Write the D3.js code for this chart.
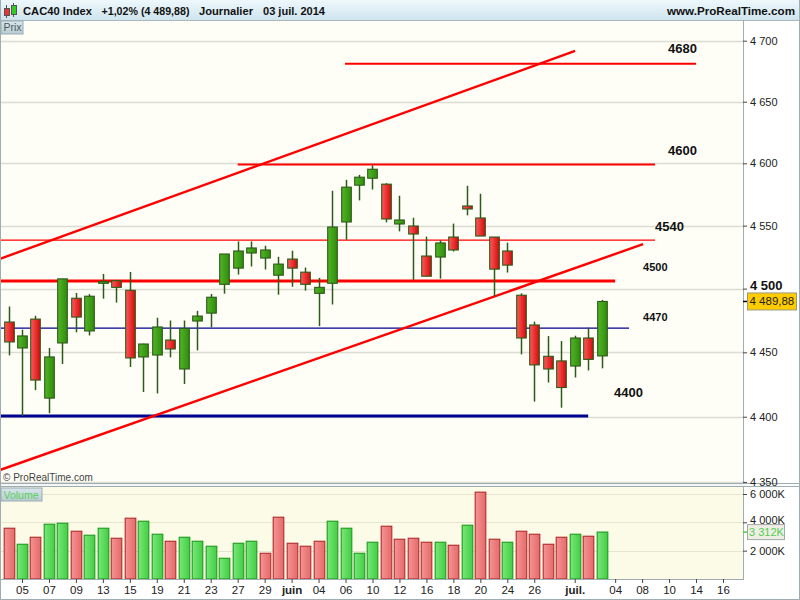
<!DOCTYPE html>
<html><head><meta charset="utf-8">
<script src="https://cdn.jsdelivr.net/npm/d3@7"></script>
<style>
body{margin:0;background:#fff;}
svg{display:block;font-family:"Liberation Sans",Arial,sans-serif;}
</style>
</head><body>
<svg id="c" width="800" height="600"></svg>
<script>
// ---------- DATA ----------
const tradingDays = ["2014-05-02","2014-05-05","2014-05-06","2014-05-07","2014-05-08","2014-05-09","2014-05-12","2014-05-13","2014-05-14","2014-05-15","2014-05-16","2014-05-19","2014-05-20","2014-05-21","2014-05-22","2014-05-23","2014-05-26","2014-05-27","2014-05-28","2014-05-29","2014-05-30","2014-06-02","2014-06-03","2014-06-04","2014-06-05","2014-06-06","2014-06-09","2014-06-10","2014-06-11","2014-06-12","2014-06-13","2014-06-16","2014-06-17","2014-06-18","2014-06-19","2014-06-20","2014-06-23","2014-06-24","2014-06-25","2014-06-26","2014-06-27","2014-06-30","2014-07-01","2014-07-02","2014-07-03"];
const openP  = [4473.7,4453.4,4476.0,4414.4,4457.3,4492.4,4466.7,4504.2,4506.3,4498.7,4446.4,4447.9,4459.6,4437.0,4474.5,4480.7,4503.4,4516.2,4528.2,4524.2,4510.6,4523.4,4513.0,4496.3,4504.2,4552.9,4582.4,4588.0,4583.2,4551.3,4549.7,4525.8,4525.0,4540.9,4565.7,4556.1,4540.9,4529.8,4494.8,4471.4,4446.9,4443.3,4439.3,4461.2,4447.2];
const highP  = [4485.9,4467.7,4478.6,4453.4,4507.7,4496.6,4495.6,4511.6,4506.9,4513.2,4456.7,4477.1,4474.9,4474.9,4482.5,4495.8,4527.4,4537.4,4537.4,4534.0,4525.2,4530.0,4516.7,4508.5,4577.9,4586.7,4590.7,4598.4,4584.0,4573.9,4556.3,4541.2,4538.2,4551.6,4581.9,4575.5,4540.9,4536.4,4496.3,4474.0,4462.7,4458.8,4463.0,4469.3,4491.1];
const lowP   = [4447.6,4400.5,4420.6,4402.7,4440.9,4465.6,4463.2,4492.1,4489.0,4438.6,4419.1,4418.0,4446.1,4425.3,4451.5,4469.5,4496.0,4511.1,4517.5,4515.1,4495.2,4501.5,4498.4,4470.5,4487.5,4538.8,4570.2,4578.9,4552.6,4545.4,4506.9,4509.8,4507.9,4529.4,4558.2,4541.7,4494.2,4512.7,4448.4,4411.7,4426.5,4407.0,4430.4,4435.9,4437.5];
const closeP = [4458.1,4462.8,4428.4,4446.4,4507.7,4477.6,4494.0,4505.5,4501.0,4445.6,4456.5,4469.8,4452.6,4468.7,4478.4,4493.2,4527.4,4529.8,4532.2,4530.6,4519.4,4516.2,4503.4,4501.0,4548.9,4580.8,4588.8,4595.2,4555.3,4554.5,4543.3,4509.8,4536.2,4530.6,4563.3,4541.7,4515.4,4518.6,4461.2,4440.2,4437.0,4422.6,4461.2,4444.5,4489.88];
const volumeK = [3584,2453,2948,3867,3938,3372,3090,3584,2877,4291,4079,3160,2665,2948,2665,2312,1463,2524,2665,1817,4362,2524,2312,2665,4079,3584,1817,2595,3726,2807,2877,2595,2595,2383,3797,6130,2807,2595,3372,3160,2453,2948,3160,3019,3312];
const prevCloseBefore = 4487.4;

const xTickIndex  = [1,3,5,7,9,11,13,15,17,19,21,23,25,27,29,31,33,35,37,39,42,45,47,49,51,53];
const xTickLabels = ["05","07","09","13","15","19","21","23","27","29","juin","04","06","10","12","16","18","20","24","26","juil.","04","08","10","14","16"];
const monthLabels = ["juin","juil."];
const priceTicks  = [4350,4400,4450,4500,4550,4600,4650,4700];
const volumeTicks = [2000,4000,6000];

// horizontal levels (price, start index, end index)
const levelPrice = [4681.0,4599.0,4538.5,4506.1,4469.0,4400.5];
const levelStart = [24.96,17.0,-1,-1,-1,-1];
const levelEnd   = [51.0,47.96,47.96,45.0,46.03,43.0];
const levelColor = ["red","red","red","red","navy","navy"];
const levelWidth = [2,2,1.3,3,1.2,3];
// level annotations (text, index, price)
const noteText  = ["4680","4600","4540","4500","4470","4400"];
const noteIdx   = [48.92,48.92,47.96,47.07,47.07,44.92];
const notePrice = [4694.0,4610.0,4549.2,4517.2,4477.8,4418.5];
const noteBig   = [true,true,true,false,false,true];
// trend lines
const trendStartIdx   = [-0.63,-0.63];
const trendStartPrice = [4523.6,4359.1];
const trendEndIdx     = [42.03,47.07];
const trendEndPrice   = [4691.6,4535.2];

const titleName = "CAC40 Index";
const titlePeriod = "Journalier";
const titleDate = "03 juil. 2014";
const siteName = "www.ProRealTime.com";

// ---------- SETUP ----------
const loc = d3.formatLocale({decimal:",", thousands:"\u00a0", grouping:[3], currency:["","€"]});
const fmtInt = loc.format(",");
const fmt2 = loc.format(",.2f");
const n = closeP.length;
const last = closeP[n-1], prev = closeP[n-2];
const pct = (last/prev - 1)*100;

const svg = d3.select("#c");
const W = 800, H = 600;
const axisX = 743;
const pTop = 21, pBot = 483, vTop = 487, vBot = 579;

const x = d3.scaleLinear().domain([0,53]).range([8.5,723]);
const y = d3.scaleLog().domain([4350,4700]).range([481.9,40.7]);
const yv = d3.scaleLinear().domain([0,6000]).range([579,494]);

const defs = svg.append("defs");
function grad(id, stops, vertical){
  const g = defs.append("linearGradient").attr("id",id)
    .attr("x1","0").attr("y1","0").attr("x2",vertical?"0":"1").attr("y2",vertical?"1":"0");
  stops.forEach(s=>g.append("stop").attr("offset",s[0]).attr("stop-color",s[1]));
}
grad("gRed",[["0%","#ff5a5a"],["100%","#d20a0a"]]);
grad("gGreen",[["0%","#52b526"],["100%","#2f8c0c"]]);
grad("vRed",[["0%","#f69494"],["100%","#e46a6a"]]);
grad("vGreen",[["0%","#78e878"],["100%","#44cc44"]]);
grad("hdr",[["0%","#eef8fc"],["100%","#cfe4ee"]],true);
grad("tag",[["0%","#d8e6ea"],["100%","#b8ccd2"]],true);
defs.append("clipPath").attr("id","clipP").append("rect").attr("x",1).attr("y",pTop).attr("width",axisX-1).attr("height",pBot-pTop);
defs.append("clipPath").attr("id","clipV").append("rect").attr("x",1).attr("y",vTop).attr("width",axisX-1).attr("height",vBot-vTop);

// backgrounds
svg.append("rect").attr("width",W).attr("height",H).attr("fill","#ffffff");
svg.append("rect").attr("x",0).attr("y",0).attr("width",W).attr("height",20).attr("fill","url(#hdr)");
svg.append("line").attr("x1",0).attr("x2",W).attr("y1",20.5).attr("y2",20.5).attr("stroke","#a9b6bc");
svg.append("rect").attr("x",1).attr("y",pTop).attr("width",axisX-1).attr("height",pBot-pTop).attr("fill","#fefef6");
svg.append("rect").attr("x",1).attr("y",vTop).attr("width",axisX-1).attr("height",vBot-vTop).attr("fill","#fbfbe8");

// gridlines price
const gP = svg.append("g").attr("clip-path","url(#clipP)");
gP.selectAll("line.grid").data(priceTicks).join("line")
  .attr("x1",0).attr("x2",axisX).attr("y1",d=>Math.round(y(d))+0.5).attr("y2",d=>Math.round(y(d))+0.5)
  .attr("stroke","#dcdcd2").attr("stroke-width",1.3);
// gridlines volume
svg.append("g").selectAll("line").data(volumeTicks).join("line")
  .attr("x1",1).attr("x2",axisX).attr("y1",d=>Math.round(yv(d))+0.5).attr("y2",d=>Math.round(yv(d))+0.5)
  .attr("stroke","#e6e6cf").attr("stroke-width",1.2);

// levels
gP.selectAll("line.lvl").data(levelPrice).join("line").attr("class","lvl")
  .attr("x1",(d,i)=>x(levelStart[i])).attr("x2",(d,i)=>x(levelEnd[i]))
  .attr("y1",d=>y(d)).attr("y2",d=>y(d))
  .attr("stroke",(d,i)=>levelColor[i]==="red"?"#ff0000":"#000090")
  .attr("stroke-width",(d,i)=>levelWidth[i]);
// trend lines
gP.selectAll("line.tr").data(trendStartIdx).join("line").attr("class","tr")
  .attr("x1",(d,i)=>x(trendStartIdx[i])).attr("y1",(d,i)=>y(trendStartPrice[i]))
  .attr("x2",(d,i)=>x(trendEndIdx[i])).attr("y2",(d,i)=>y(trendEndPrice[i]))
  .attr("stroke","#ff0000").attr("stroke-width",2.4);

// candles
const candles = gP.selectAll("g.c").data(closeP).join("g").attr("class","c");
const bw = 9.6;
candles.append("line")
  .attr("x1",(d,i)=>Math.round(x(i))+0.5).attr("x2",(d,i)=>Math.round(x(i))+0.5)
  .attr("y1",(d,i)=>y(highP[i])).attr("y2",(d,i)=>y(lowP[i]))
  .attr("stroke","#2c5a18").attr("stroke-width",1.5);
candles.append("rect")
  .attr("x",(d,i)=>Math.round(x(i))+0.5-bw/2)
  .attr("y",(d,i)=>y(Math.max(openP[i],closeP[i])))
  .attr("width",bw)
  .attr("height",(d,i)=>Math.max(1.5,y(Math.min(openP[i],closeP[i]))-y(Math.max(openP[i],closeP[i]))))
  .attr("fill",(d,i)=>closeP[i]>=openP[i]?"url(#gGreen)":"url(#gRed)")
  .attr("stroke","#2c5a18").attr("stroke-width",1.1);

// annotations
gP.selectAll("text.note").data(noteText).join("text").attr("class","note")
  .attr("x",(d,i)=>x(noteIdx[i])).attr("y",(d,i)=>y(notePrice[i]))
  .attr("dy","0.35em").attr("font-weight","bold")
  .attr("font-size",(d,i)=>noteBig[i]?13:11).attr("fill","#111").text(d=>d);

// volume bars
const vw = 10.6;
svg.append("g").attr("clip-path","url(#clipV)").selectAll("rect").data(volumeK).join("rect")
  .attr("x",(d,i)=>Math.round(x(i))+0.5-vw/2).attr("y",d=>yv(d))
  .attr("width",vw).attr("height",d=>yv(0)-yv(d))
  .attr("fill",(d,i)=>closeP[i] >= (i?closeP[i-1]:prevCloseBefore)?"url(#vGreen)":"url(#vRed)")
  .attr("stroke",(d,i)=>closeP[i] >= (i?closeP[i-1]:prevCloseBefore)?"#1e9a1e":"#b02a2a")
  .attr("stroke-width",1.1);

// panel borders
svg.append("line").attr("x1",axisX+0.5).attr("x2",axisX+0.5).attr("y1",20).attr("y2",vBot).attr("stroke","#9eacb3");
svg.append("line").attr("x1",0.5).attr("x2",0.5).attr("y1",0).attr("y2",H).attr("stroke","#9eacb3");
svg.append("line").attr("x1",W-0.5).attr("x2",W-0.5).attr("y1",0).attr("y2",H).attr("stroke","#9eacb3");
svg.append("rect").attr("x",1).attr("y",pBot).attr("width",axisX).attr("height",vTop-pBot).attr("fill","#f4f6f6");
svg.append("line").attr("x1",0).attr("x2",W).attr("y1",pBot+0.5).attr("y2",pBot+0.5).attr("stroke","#9eacb3");
svg.append("line").attr("x1",0).attr("x2",W).attr("y1",vTop-0.5).attr("y2",vTop-0.5).attr("stroke","#9eacb3");
svg.append("line").attr("x1",0).attr("x2",axisX+1).attr("y1",vBot+0.5).attr("y2",vBot+0.5).attr("stroke","#9eacb3");
svg.append("line").attr("x1",0).attr("x2",W).attr("y1",H-0.5).attr("y2",H-0.5).attr("stroke","#9eacb3");

// price axis
const pAxis = svg.append("g").attr("transform",`translate(${axisX},0)`)
  .call(d3.axisRight(y).tickValues(priceTicks).tickSize(4).tickPadding(3).tickFormat(d=>fmtInt(d)));
pAxis.select(".domain").remove();
pAxis.selectAll("line").attr("stroke","#444");
pAxis.selectAll("text").attr("font-size",11).attr("fill","#222").attr("font-family","Liberation Sans, Arial")
  .filter(d=>d===4500).attr("font-size",13).attr("font-weight","bold").attr("fill","#111").attr("dy","0.1em");

// volume axis
const vAxis = svg.append("g").attr("transform",`translate(${axisX},0)`)
  .call(d3.axisRight(yv).tickValues(volumeTicks).tickSize(4).tickPadding(3).tickFormat(d=>fmtInt(d)+"K"));
vAxis.select(".domain").remove();
vAxis.selectAll("line").attr("stroke","#444");
vAxis.selectAll("text").attr("font-size",11).attr("fill","#222").attr("font-family","Liberation Sans, Arial")
  .filter(d=>d===4000).attr("dy","0.1em");

// last price tag
const ly = y(last);
svg.append("line").attr("x1",axisX).attr("x2",axisX+4).attr("y1",ly).attr("y2",ly).attr("stroke","#000").attr("stroke-width",1.5);
svg.append("rect").attr("x",747.5).attr("y",ly-8.5).attr("width",49).attr("height",17)
  .attr("fill","#ffcc00").attr("stroke","#9a9a7a");
svg.append("text").attr("x",749.5).attr("y",ly).attr("dy","0.35em").attr("font-size",11.5).attr("fill","#222").text(fmt2(last));

// last volume tag
const lv = yv(volumeK[n-1]);
svg.append("line").attr("x1",axisX).attr("x2",axisX+4).attr("y1",lv).attr("y2",lv).attr("stroke","#44cc44").attr("stroke-width",1.5);
svg.append("rect").attr("x",747.5).attr("y",lv-7.5).attr("width",37).attr("height",15)
  .attr("fill","#eeeee4").attr("stroke","#a0a8a8");
svg.append("text").attr("x",749).attr("y",lv).attr("dy","0.35em").attr("font-size",11).attr("fill","#55cc55").text(fmtInt(volumeK[n-1])+"K");

// x axis
const xAxis = svg.append("g").attr("transform",`translate(0,${vBot})`)
  .call(d3.axisBottom(x).tickValues(xTickIndex).tickSize(4).tickPadding(3).tickFormat((d,i)=>xTickLabels[i]));
xAxis.select(".domain").remove();
xAxis.selectAll("line").attr("stroke","#444");
xAxis.selectAll("text").attr("font-size",11.5).attr("fill","#222").attr("font-family","Liberation Sans, Arial")
  .filter((d,i)=>monthLabels.includes(xTickLabels[i])).attr("font-weight","bold");

// header
const hdr = svg.append("g");
hdr.append("line").attr("x1",6.5).attr("x2",6.5).attr("y1",5).attr("y2",18).attr("stroke","#555");
hdr.append("rect").attr("x",4.5).attr("y",8.5).attr("width",5).attr("height",7).attr("fill","#ee3333").attr("stroke","#555");
hdr.append("line").attr("x1",13.5).attr("x2",13.5).attr("y1",3).attr("y2",17).attr("stroke","#555");
hdr.append("rect").attr("x",11.5).attr("y",5.5).attr("width",5).attr("height",9).attr("fill","#33cc22").attr("stroke","#555");
const hStyle = (s,len)=>s.attr("font-size",11.5).attr("font-weight","bold").attr("fill","#111").attr("y",14.5)
  .attr("textLength",len).attr("lengthAdjust","spacingAndGlyphs");
hStyle(hdr.append("text").attr("x",23).text(titleName),69);
hStyle(hdr.append("text").attr("x",101.5).text("+"+loc.format(".2f")(pct)+"% ("+fmt2(last)+")"),88);
hStyle(hdr.append("text").attr("x",199).text(titlePeriod),54);
hStyle(hdr.append("text").attr("x",263).text(titleDate),62);
hStyle(hdr.append("text").attr("x",667).text(siteName),128);

// panel tags
svg.append("rect").attr("x",1).attr("y",21).attr("width",22).attr("height",13).attr("fill","url(#tag)").attr("stroke","#9aabb2");
svg.append("text").attr("x",3.5).attr("y",31).attr("font-size",10.5).attr("fill","#4a5a60").text("Prix");
svg.append("rect").attr("x",1).attr("y",488).attr("width",41).attr("height",13).attr("fill","url(#tag)").attr("stroke","#9aabb2");
svg.append("text").attr("x",3.5).attr("y",498.5).attr("font-size",10.5).attr("fill","#55d055").text("Volume");
svg.append("text").attr("x",3).attr("y",481).attr("font-size",10).attr("fill","#444").text("\u00a9 ProRealTime.com");
</script>
</body></html>
